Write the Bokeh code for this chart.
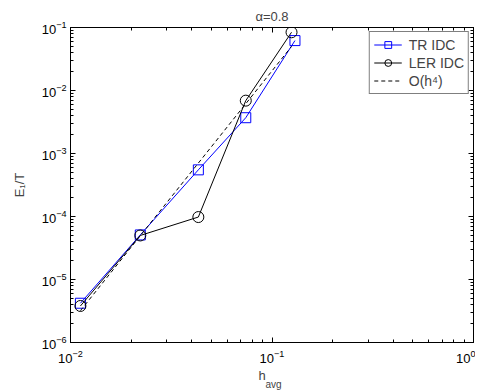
from bokeh.plotting import figure
from bokeh.models import LogAxis, Range1d, FixedTicker, Title
from bokeh.embed import file_html
from bokeh.resources import INLINE

# ---- data ----
h_tr = [0.0112, 0.0222, 0.0431, 0.0741, 0.130]
e_tr = [4.2e-6, 5.1e-5, 5.5e-4, 3.7e-3, 0.062]
h_ler = [0.0112, 0.0222, 0.0431, 0.0741, 0.125]
e_ler = [3.8e-6, 5.0e-5, 9.8e-5, 6.9e-3, 0.084]
h_ref = [0.0112, 0.125]
e_ref = [3.2e-6, 0.05]

x_decades = [-2, -1, 0]
y_decades = [-6, -5, -4, -3, -2, -1]

FONT = "Liberation Sans"

def major(decs):
    return [10.0 ** d for d in decs]

def minor(decs):
    return [m * 10.0 ** d for d in decs[:-1] for m in range(2, 10)]

xt = FixedTicker(ticks=major(x_decades), minor_ticks=minor(x_decades))
yt = FixedTicker(ticks=major(y_decades), minor_ticks=minor(y_decades))

p = figure(frame_width=403, frame_height=315,
           x_axis_type="log", y_axis_type="log",
           x_range=Range1d(1e-2, 1), y_range=Range1d(1e-6, 1e-1),
           output_backend="svg", toolbar_location=None,
           min_border_left=70, min_border_top=27, min_border_bottom=48,
           min_border_right=2)
p.grid.visible = False
p.outline_line_color = "black"
p.outline_line_width = 1

p.xaxis[0].ticker = xt
p.yaxis[0].ticker = yt
for ax in (p.xaxis[0], p.yaxis[0]):
    ax.major_tick_in = 5
    ax.major_tick_out = 0
    ax.minor_tick_in = 3
    ax.minor_tick_out = 0
    ax.axis_line_color = "black"
    ax.major_tick_line_color = "black"
    ax.minor_tick_line_color = "black"
    ax.major_label_text_font = FONT
    ax.major_label_text_font_size = "13px"
    ax.major_label_text_color = "black"
p.xaxis[0].major_label_standoff = 7
p.yaxis[0].major_label_standoff = 4
p.yaxis[0].axis_label = "E\u2081/T"
p.yaxis[0].axis_label_text_font = FONT
p.yaxis[0].axis_label_text_font_size = "13px"
p.yaxis[0].axis_label_text_font_style = "normal"
p.yaxis[0].axis_label_standoff = 12

p.add_layout(LogAxis(ticker=xt, major_tick_in=5, major_tick_out=0, minor_tick_in=3,
                     minor_tick_out=0, major_label_text_font_size="1px",
                     major_label_text_alpha=0, major_label_standoff=0,
                     axis_line_color="black"), "above")
p.add_layout(LogAxis(ticker=yt, major_tick_in=5, major_tick_out=0, minor_tick_in=3,
                     minor_tick_out=0, major_label_text_font_size="1px",
                     major_label_text_alpha=0, major_label_standoff=0,
                     axis_line_color="black"), "right")

# ---- series ----
p.line(h_tr, e_tr, line_color="blue", line_width=1, legend_label="TR IDC")
p.scatter(h_tr, e_tr, marker="square", size=10, line_color="blue",
          fill_color=None, line_width=1, legend_label="TR IDC")
p.line(h_ler, e_ler, line_color="black", line_width=1, legend_label="LER IDC")
p.scatter(h_ler, e_ler, marker="circle", size=11, line_color="black",
          fill_color=None, line_width=1, legend_label="LER IDC")
p.line(h_ref, e_ref, line_color="black", line_width=1, line_dash="4 3",
       legend_label="O(h\u2074)")

lg = p.legend[0]
lg.location = "top_right"
lg.margin = 4
lg.padding = 4
lg.spacing = 1
lg.glyph_width = 28
lg.glyph_height = 17
lg.label_height = 17
lg.label_standoff = 7
lg.label_text_font = FONT
lg.label_text_font_size = "14px"
lg.border_line_color = "black"
lg.border_line_width = 1.5
lg.background_fill_alpha = 1

# ---- title and x label ----
p.title.text = "\u03b1=0.8"
p.title.align = "center"
p.title.text_font = FONT
p.title.text_font_size = "13px"
p.title.text_font_style = "normal"
p.title.standoff = 7

p.add_layout(Title(text="h", align="left", offset=188, standoff=0,
                   text_font=FONT, text_font_size="13px",
                   text_font_style="normal"), "below")
p.add_layout(Title(text="avg", align="left", offset=195, standoff=-8,
                   vertical_align="top",
                   text_font=FONT, text_font_size="10px",
                   text_font_style="normal"), "below")

open("out.html", "w").write(file_html(p, INLINE))
